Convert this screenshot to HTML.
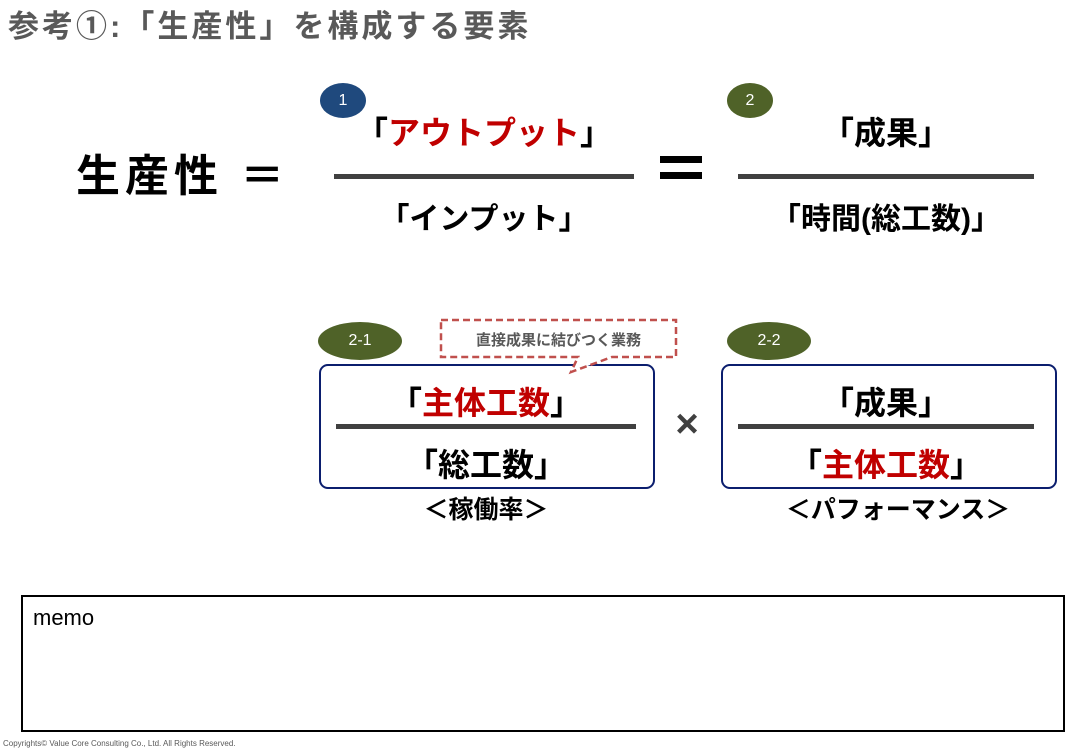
<!DOCTYPE html>
<html><head><meta charset="utf-8"><style>
body{margin:0;width:1075px;height:751px;background:#fff;position:relative;overflow:hidden;font-family:"Liberation Sans","Noto Sans CJK JP",sans-serif}
.a{position:absolute}
.t{position:absolute;font-weight:bold;white-space:nowrap;text-align:center}
.line{position:absolute;height:5px;background:#404040}
.red{color:#C00000}
.ell{position:absolute;border-radius:50%;color:#fff;font-size:16px;display:flex;align-items:center;justify-content:center}
</style></head><body>
<div class="t" style="left:8px;top:1px;font-size:31px;letter-spacing:3px;color:#595959;text-align:left">参考①:「生産性」を構成する要素</div>

<div class="t" style="left:76px;top:140px;font-size:44px;letter-spacing:5px;text-align:left">生産性 ＝</div>

<div class="ell" style="left:320px;top:83px;width:46px;height:35px;background:#1F497D">1</div>
<div class="t" style="left:334px;width:300px;top:108px;font-size:32px">「<span class="red">アウトプット</span>」</div>
<div class="line" style="left:334px;width:300px;top:174px"></div>
<div class="t" style="left:334px;width:300px;top:194px;font-size:30px">「インプット」</div>

<div class="a" style="left:660px;top:156px;width:42px;height:7px;background:#000"></div>
<div class="a" style="left:660px;top:172px;width:42px;height:7px;background:#000"></div>

<div class="ell" style="left:727px;top:83px;width:46px;height:35px;background:#4F6228">2</div>
<div class="t" style="left:738px;width:296px;top:108px;font-size:32px">「成果」</div>
<div class="line" style="left:738px;width:296px;top:174px"></div>
<div class="t" style="left:738px;width:296px;top:194px;font-size:30px">「時間(総工数)」</div>

<div class="ell" style="left:318px;top:322px;width:84px;height:38px;background:#4F6228">2-1</div>

<div class="a" style="left:319px;top:364px;width:332px;height:121px;border:2px solid #0B1E6E;border-radius:9px"></div>
<svg class="a" style="left:0;top:0" width="1075" height="751">
<path d="M441 320 H676 V357 H612 L571 372 L578 357 H441 Z" fill="#fff" stroke="#C0504D" stroke-width="2.5" stroke-dasharray="7,4"/>
</svg>
<div class="t" style="left:441px;width:235px;top:329px;font-size:15px;color:#595959">直接成果に結びつく業務</div>

<div class="t" style="left:336px;width:300px;top:378px;font-size:32px">「<span class="red">主体工数</span>」</div>
<div class="line" style="left:336px;width:300px;top:424px"></div>
<div class="t" style="left:336px;width:300px;top:440px;font-size:32px">「総工数」</div>
<div class="t" style="left:336px;width:300px;top:490px;font-size:25px">＜稼働率＞</div>

<div class="t" style="left:668px;width:38px;top:402px;font-size:40px;color:#404040">×</div>

<div class="ell" style="left:727px;top:322px;width:84px;height:38px;background:#4F6228">2-2</div>
<div class="a" style="left:721px;top:364px;width:332px;height:121px;border:2px solid #0B1E6E;border-radius:9px"></div>
<div class="t" style="left:738px;width:296px;top:378px;font-size:32px">「成果」</div>
<div class="line" style="left:738px;width:296px;top:424px"></div>
<div class="t" style="left:738px;width:296px;top:440px;font-size:32px">「<span class="red">主体工数</span>」</div>
<div class="t" style="left:748px;width:300px;top:490px;font-size:25px">＜パフォーマンス＞</div>

<div class="a" style="left:21px;top:595px;width:1040px;height:133px;border:2px solid #000"></div>
<div class="a" style="left:33px;top:605px;font-size:22px">memo</div>
<div class="a" style="left:3px;top:739px;font-size:8px;color:#595959">Copyrights© Value Core Consulting Co., Ltd.  All Rights Reserved.</div>
</body></html>
